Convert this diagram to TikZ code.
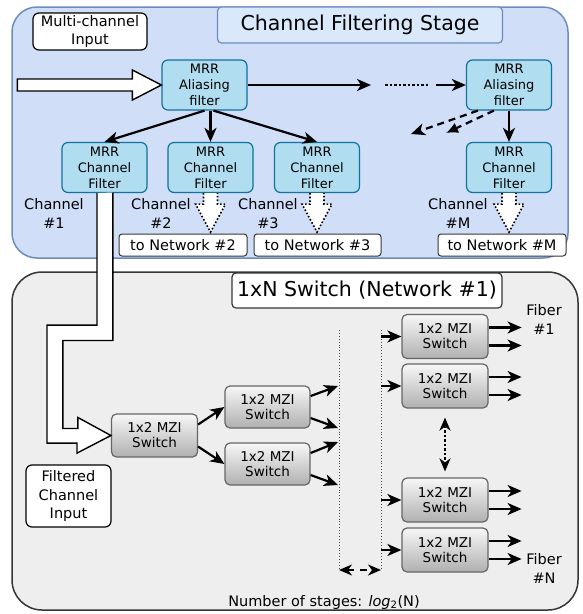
\documentclass[tikz,border=0pt]{standalone}
\usepackage{fontspec}
\setmainfont{DejaVu Sans}
\usetikzlibrary{arrows.meta}
\definecolor{stagefill}{HTML}{D1DEF8}
\definecolor{stagehead}{HTML}{DAE8FC}
\definecolor{stageline}{HTML}{6C8EBF}
\definecolor{mrrfill}{HTML}{B1DDF0}
\definecolor{mrrline}{HTML}{10739E}
\definecolor{netfill}{HTML}{EEEEEE}
\definecolor{netline}{HTML}{363636}
\definecolor{mzitop}{HTML}{F7F7F7}
\definecolor{mzibot}{HTML}{B0B0B0}
\definecolor{mziline}{HTML}{666666}
\tikzset{
  mrr/.style={rectangle, rounded corners=6pt, draw=mrrline, fill=mrrfill, line width=1.2pt,
    minimum width=85pt, minimum height=50pt, inner sep=0pt, align=center,
    font=\fontsize{13}{16}\selectfont},
  mzi/.style={rectangle, rounded corners=5pt, draw=mziline, line width=1.2pt,
    top color=mzitop, bottom color=mzibot, minimum width=86pt, minimum height=43pt,
    inner sep=0pt, align=center, font=\fontsize{13.5}{15}\selectfont},
  lbl/.style={inner sep=0pt, align=center, font=\fontsize{14.5}{19}\selectfont},
  whitebox/.style={rectangle, rounded corners=6pt, draw=black, fill=white, line width=1.2pt,
    inner sep=0pt, align=center, font=\fontsize{14.5}{18.5}\selectfont},
  netbox/.style={rectangle, rounded corners=3pt, draw=netline, fill=white, line width=1pt,
    minimum height=22pt, inner sep=0pt, font=\fontsize{14.5}{17}\selectfont},
  headbox/.style={rectangle, rounded corners=4pt, line width=1.2pt, inner sep=0pt,
    font=\fontsize{20.5}{24}\selectfont},
  conn/.style={line width=2.2pt, -{Stealth[length=14pt,width=12pt,inset=4pt]}},
  dconn/.style={conn, dash pattern=on 7pt off 5pt},
  blockarrow/.style={draw=black, fill=white, line width=1.4pt, line join=miter},
  dotblock/.style={draw=black, fill=white, line width=1.6pt, dotted},
  stagemark/.style={draw=black!70, line width=0.9pt, dotted},
}

\begin{document}
\begin{tikzpicture}[x=1pt, y=-1pt]
\useasboundingbox (0,0) rectangle (582,614);
% channel filtering stage
\draw[fill=stagefill, draw=stageline, line width=1.5pt, rounded corners=25pt] (12,7) rectangle (568,258);
\node[headbox, draw=stageline, fill=stagehead, minimum width=285pt, minimum height=36pt] (stagetitle) at (360,25) {Channel Filtering Stage};
\node[whitebox, minimum width=114pt, minimum height=37pt] (mcin) at (90,31.5) {Multi-channel\\[-1pt]Input};

\node[mrr] (alias1) at (204.5,85) {MRR\\Aliasing\\filter};
\node[mrr] (aliasM) at (509,85) {MRR\\Aliasing\\filter};
\node[mrr] (chf1) at (104.5,167.5) {MRR\\Channel\\Filter};
\node[mrr] (chf2) at (210.5,167.5) {MRR\\Channel\\Filter};
\node[mrr] (chf3) at (317,167.5) {MRR\\Channel\\Filter};
\node[mrr] (chfM) at (509,167.5) {MRR\\Channel\\Filter};

\node[lbl] (chan1) at (54,213.5) {Channel\\\#1};
\node[lbl] (chan2) at (161,213.5) {Channel\\\#2};
\node[lbl] (chan3) at (268,213.5) {Channel\\\#3};
\node[lbl] (chanM) at (458,213.5) {Channel\\\#M};

\node[netbox, minimum width=128pt] (net2) at (183,245) {to Network \#2};
\node[netbox, minimum width=127pt] (net3) at (317.5,245) {to Network \#3};
\node[netbox, minimum width=128pt] (netM) at (502,245) {to Network \#M};

% input arrow
\draw[blockarrow] (alias1.west) -- ++(-29,-15) -- ++(0,9) -- ++(-115,0) -- ++(0,12) -- ++(115,0) -- ++(0,9) -- cycle;

\coordinate (gapL) at (371,85);
\coordinate (dotL) at (385,85);
\coordinate (dotR) at (428,85);
\coordinate (gapR) at (436,85);
\draw[conn] (alias1.east) -- (gapL);
\draw[line width=2.5pt, dotted] (dotL) -- (dotR);
\draw[conn] (gapR) -- (aliasM.west);

\draw[conn] (alias1.south) -- (chf1.north);
\draw[conn] (alias1.south -| chf2.north) -- (chf2.north);
\draw[conn] ([xshift=9pt]alias1.south) -- (chf3.north);
\draw[conn] (aliasM.south) -- (chfM.north);
\coordinate (more1) at (411,134);
\coordinate (more2) at (446,133);
\draw[dconn] ([xshift=12pt]aliasM.south west) -- (more1);
\draw[line width=2.2pt, dash pattern=on 7pt off 5pt, -{Latex[length=12pt,width=11pt]}] ([xshift=28pt]aliasM.south west) -- (more2);

% outputs to the other networks
\foreach \f in {chf2,chf3,chfM}
  \draw[dotblock] ([xshift=-7pt]\f.south) -- ++(0,11) -- ++(-8,0) -- ++(15,28) -- ++(15,-28) -- ++(-8,0) -- ++(0,-11);

% 1xN switch
\draw[fill=netfill, draw=netline, line width=1.5pt, rounded corners=30pt] (12,272) rectangle (578,610);
\node[headbox, draw=netline, fill=white, minimum width=270pt, minimum height=35pt] (nettitle) at (367,290.5) {1xN Switch (Network \#1)};

\node[mzi] (sw1) at (154.5,435.5) {1x2 MZI\\Switch};
\node[mzi, minimum width=85pt, minimum height=42pt] (sw2a) at (267.5,407) {1x2 MZI\\Switch};
\node[mzi, minimum width=85pt, minimum height=42pt] (sw2b) at (267.5,464) {1x2 MZI\\Switch};
\node[mzi, minimum height=44pt] (swL1) at (445,336.5) {1x2 MZI\\Switch};
\node[mzi, minimum height=44pt] (swL2) at (445,386) {1x2 MZI\\Switch};
\node[mzi, minimum height=44pt] (swL3) at (445,500) {1x2 MZI\\Switch};
\node[mzi, minimum height=44pt] (swL4) at (445,550) {1x2 MZI\\Switch};

\node[whitebox, minimum width=85pt, minimum height=62pt] (fcin) at (68.5,496) {Filtered\\Channel\\Input};
\node[lbl] (fib1) at (544,319) {Fiber\\\#1};
\node[lbl] (fibN) at (544,568) {Fiber\\\#N};
\node[lbl] (nstages) at (324,602) {Number of stages: \textit{log}\textsubscript{2}(N)};

% filtered channel into the switch
\draw[blockarrow] ([xshift=-7.5pt]chf1.south) -- ++(0,132) -- ++(-50,0) -- ++(0,118) -- ++(30,0) -- ++(0,10)
  -- (sw1.west) -- ++(-33,-18) -- ++(0,11) -- ++(-15,0) -- ++(0,-88) -- ++(50,0) -- ++(0,-148);

\draw[conn] ([yshift=11pt]sw1.east) -- (sw2a.west);
\draw[conn] ([yshift=-11pt]sw1.east) -- (sw2b.west);

\coordinate (o1) at (338,386);
\coordinate (o2) at (338,428);
\coordinate (o3) at (338,442);
\coordinate (o4) at (338,485);
\draw[conn] ([yshift=11pt]sw2a.east) -- (o1);
\draw[conn] ([yshift=-11pt]sw2a.east) -- (o2);
\draw[conn] ([yshift=11pt]sw2b.east) -- (o3);
\draw[conn] ([yshift=-11pt]sw2b.east) -- (o4);

\draw[stagemark] (339,330) -- (339,568);
\draw[stagemark] (381,330) -- (381,568);
\coordinate (stL) at (339,570);
\coordinate (stR) at (381,570);
\draw[line width=2.2pt, dash pattern=on 7pt off 6pt, {Stealth[length=13pt,width=11pt,inset=4pt]}-{Stealth[length=13pt,width=11pt,inset=4pt]}] (stL) -- (stR);

\foreach \s in {swL1,swL2,swL3,swL4} {
  \draw[conn] ([xshift=-20pt]\s.west) -- (\s.west);
  \draw[conn] ([yshift=9pt]\s.east) -- ++(33,0);
  \draw[conn] ([yshift=-9pt]\s.east) -- ++(33,0);
}
\draw[line width=2.5pt, dotted, {Stealth[length=13pt,width=11pt,inset=4pt]}-{Stealth[length=13pt,width=11pt,inset=4pt]}] ([yshift=-9pt]swL2.south) -- ([yshift=6pt]swL3.north);
\end{tikzpicture}
\end{document}
